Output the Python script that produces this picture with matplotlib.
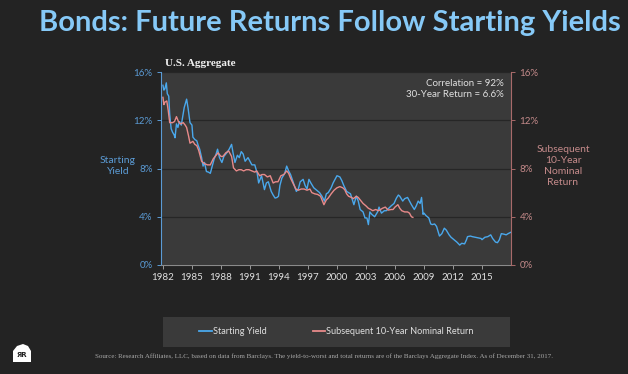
import matplotlib
matplotlib.use("Agg")
import matplotlib.pyplot as plt
from matplotlib.lines import Line2D
from matplotlib.patches import Polygon

# ---- Data ----
yield_years = [1982.0, 1982.1, 1982.2, 1982.35, 1982.45, 1982.6, 1982.7, 1982.85, 1983.0, 1983.15,
               1983.25, 1983.4, 1983.55, 1983.7, 1983.9, 1984.05, 1984.2, 1984.45, 1984.6, 1984.8,
               1985.0, 1985.1, 1985.3, 1985.5, 1985.65, 1985.8, 1986.0, 1986.15, 1986.3, 1986.5,
               1986.7, 1986.9, 1987.1, 1987.3, 1987.5, 1987.65, 1987.85, 1988.1, 1988.3, 1988.6,
               1988.85, 1989.1, 1989.25, 1989.45, 1989.7, 1989.9, 1990.1, 1990.3, 1990.5, 1990.8,
               1991.0, 1991.2, 1991.5, 1991.75, 1991.9, 1992.2, 1992.5, 1992.7, 1992.9, 1993.2,
               1993.4, 1993.6, 1993.8, 1993.95, 1994.1, 1994.3, 1994.6, 1994.8, 1995.0, 1995.2,
               1995.5, 1995.8, 1996.0, 1996.2, 1996.5, 1996.7, 1996.9, 1997.1, 1997.3, 1997.6,
               1997.9, 1998.2, 1998.45, 1998.7, 1998.9, 1999.1, 1999.4, 1999.6, 1999.8, 2000.0,
               2000.3, 2000.5, 2000.7, 2001.0, 2001.2, 2001.4, 2001.6, 2001.75, 2002.0, 2002.2,
               2002.4, 2002.7, 2002.9, 2003.1, 2003.25, 2003.4, 2003.6, 2003.9, 2004.2, 2004.35,
               2004.6, 2004.9, 2005.1, 2005.35, 2005.6, 2005.9, 2006.15, 2006.35, 2006.5, 2006.8,
               2007.0, 2007.3, 2007.5, 2007.7, 2008.0, 2008.2, 2008.4, 2008.6, 2008.75, 2008.9,
               2009.0, 2009.2, 2009.5, 2009.7, 2009.85, 2010.1, 2010.3, 2010.6, 2010.85, 2011.1,
               2011.3, 2011.6, 2011.8, 2012.1, 2012.4, 2012.7, 2012.9, 2013.2, 2013.4, 2013.5,
               2013.8, 2014.0, 2014.3, 2014.6, 2014.9, 2015.0, 2015.3, 2015.6, 2015.9, 2016.1,
               2016.4, 2016.6, 2016.8, 2017.0, 2017.3, 2017.5, 2017.7, 2017.95]
yield_vals = [14.9, 14.5, 14.6, 15.1, 14.2, 14.0, 12.5, 11.3, 11.0, 10.8,
              10.55, 11.7, 11.4, 11.9, 11.6, 12.3, 13.05, 13.75, 13.0, 11.8,
              11.6, 10.6, 10.4, 10.3, 9.9, 9.6, 8.9, 8.2, 8.5, 7.75,
              7.7, 7.6, 8.2, 8.8, 9.2, 9.6, 8.9, 8.5, 9.0, 9.3,
              9.6, 10.0, 9.3, 8.5, 9.1, 8.9, 9.4, 9.2, 8.6, 8.9,
              8.6, 8.3, 8.3, 7.6, 6.8, 7.4, 6.25, 6.8, 6.9, 6.1,
              5.8, 5.55, 5.6, 5.7, 6.6, 7.2, 7.6, 8.2, 7.8, 7.5,
              6.8, 6.1, 6.3, 6.9, 7.1, 6.6, 6.3, 7.1, 6.8, 6.4,
              6.2, 6.0, 5.7, 5.3, 5.9, 6.0, 6.4, 6.8, 7.1, 7.4,
              7.3, 7.0, 6.6, 6.1, 6.0, 5.9, 5.4, 5.0, 5.7, 5.3,
              4.6, 4.4, 3.9, 3.9, 3.35, 4.4, 4.2, 4.0, 4.4, 4.8,
              4.3, 4.5, 4.5, 4.7, 4.9, 5.1, 5.55, 5.8, 5.7, 5.3,
              5.5, 5.6, 5.3, 5.0, 4.6, 4.9, 5.3, 5.1, 5.6, 4.2,
              4.3, 4.1, 3.9, 3.4, 3.35, 3.4, 3.2, 2.4, 2.6, 3.05,
              2.9, 2.5, 2.3, 2.1, 1.9, 1.65, 1.8, 1.75, 2.1, 2.35,
              2.4, 2.35, 2.3, 2.25, 2.2, 2.1, 2.3, 2.35, 2.5, 2.2,
              1.9, 1.85, 2.1, 2.6, 2.55, 2.5, 2.6, 2.7]

return_years = [1982.0, 1982.1, 1982.2, 1982.4, 1982.55, 1982.7, 1983.0, 1983.2, 1983.4, 1983.6,
                1983.8, 1984.1, 1984.3, 1984.45, 1984.65, 1984.8, 1985.1, 1985.3, 1985.5, 1985.7,
                1986.0, 1986.3, 1986.6, 1986.9, 1987.2, 1987.4, 1987.7, 1988.0, 1988.2, 1988.5,
                1988.8, 1989.1, 1989.3, 1989.6, 1989.85, 1990.1, 1990.35, 1990.6, 1990.9, 1991.2,
                1991.5, 1991.7, 1992.0, 1992.25, 1992.5, 1992.8, 1993.1, 1993.4, 1993.65, 1993.9,
                1994.2, 1994.5, 1994.8, 1995.0, 1995.2, 1995.5, 1995.75, 1996.0, 1996.3, 1996.6,
                1996.9, 1997.2, 1997.4, 1997.7, 1998.0, 1998.3, 1998.5, 1998.65, 1998.9, 1999.1,
                1999.4, 1999.7, 2000.0, 2000.3, 2000.6, 2000.8, 2001.0, 2001.2, 2001.5, 2001.7,
                2002.0, 2002.2, 2002.5, 2002.7, 2003.0, 2003.25, 2003.5, 2003.7, 2004.0, 2004.3,
                2004.7, 2005.0, 2005.3, 2005.6, 2005.8, 2006.0, 2006.3, 2006.5, 2006.7, 2007.0,
                2007.3, 2007.5, 2007.7, 2007.85]
return_vals = [13.9, 13.3, 13.5, 13.6, 12.8, 11.8, 11.8, 11.9, 12.3, 11.9,
               11.7, 11.8, 11.6, 11.4, 10.7, 10.1, 10.25, 10.0, 9.9, 9.5,
               8.6, 8.4, 8.3, 8.3, 8.8, 9.0, 9.3, 9.0, 9.0, 9.3,
               9.45, 9.0, 8.05, 7.8, 7.9, 7.9, 7.8, 7.9, 7.9, 7.8,
               7.7, 7.8, 7.4, 7.5, 7.5, 7.3, 7.4, 6.8, 6.9, 6.9,
               7.4, 7.5, 7.8, 7.6, 7.2, 6.7, 6.3, 6.2, 6.3, 6.3,
               6.2, 6.3, 6.0, 5.9, 5.85, 5.7, 5.3, 5.0, 5.4, 5.55,
               5.9, 6.2, 6.4, 6.5, 6.4, 6.25, 5.9, 5.7, 5.6, 5.5,
               5.7, 5.6, 5.3, 5.1, 4.9, 4.7, 4.6, 4.5, 4.6, 4.5,
               4.7, 4.8, 4.55, 4.6, 4.6, 4.8, 5.0, 4.7, 4.5, 4.4,
               4.4, 4.3, 4.0, 3.95]

year_ticks = [1982, 1985, 1988, 1991, 1994, 1997, 2000, 2003, 2006, 2009, 2012, 2015]
pct_ticks = [0, 4, 8, 12, 16]

# ---- Style ----
BG = "#232323"
PANEL = "#3a3a3a"
BLUE = "#4aa8ec"
PINK = "#e88a8a"
BLUE_TXT = "#5b9bd5"
PINK_TXT = "#c48a8a"
FONT = "Lato"

fig = plt.figure(figsize=(6.28, 3.74), dpi=100, facecolor=BG)

ax = fig.add_axes([161 / 628, 1 - 265 / 374, 350 / 628, 193 / 374])
ax.set_facecolor(PANEL)
ax.plot(yield_years, yield_vals, color=BLUE, lw=1.0)
ax.plot(return_years, return_vals, color=PINK, lw=1.0)

ax.set_xlim(1981.8, 2018.0)
ax.set_ylim(0, 16)
ax.set_xticks(year_ticks)
ax.set_xticklabels([str(y) for y in year_ticks], fontfamily=FONT, fontsize=7, color="#e0e0e0")
ax.set_yticks(pct_ticks)
ax.set_yticklabels([f"{p}%" for p in pct_ticks], fontfamily=FONT, fontsize=7, color=BLUE_TXT)
ax.grid(axis="y", color="#262626", lw=0.9)
ax.set_axisbelow(True)
ax.tick_params(axis="x", colors="#9a9a9a", labelcolor="#e0e0e0", length=3, width=0.7, pad=3)
ax.tick_params(axis="y", colors=BLUE_TXT, length=3, width=0.7, pad=3)
ax.spines["top"].set_visible(False)
ax.spines["right"].set_visible(False)
ax.spines["left"].set_color(BLUE_TXT)
ax.spines["bottom"].set_color("#8a8a8a")

ax2 = ax.twinx()
ax2.set_ylim(0, 16)
ax2.set_yticks(pct_ticks)
ax2.set_yticklabels([f"{p}%" for p in pct_ticks], fontfamily=FONT, fontsize=7, color=PINK_TXT)
ax2.tick_params(axis="y", colors="#a86a6a", labelcolor=PINK_TXT, length=3, width=0.7, pad=3)
for s in ["top", "left", "bottom"]:
    ax2.spines[s].set_visible(False)
ax2.spines["right"].set_color("#a86a6a")

ax.text(0.98, 0.965, "Correlation = 92%\n30-Year Return = 6.6%", transform=ax.transAxes,
        ha="right", va="top", fontfamily=FONT, fontsize=7, color="#e0e0e0", linespacing=1.35)

# ---- Titles and axis labels ----
fig.text(330 / 628, 1 - 23 / 374, "Bonds: Future Returns Follow Starting Yields",
         ha="center", va="center", fontfamily=FONT, fontweight="bold", fontsize=21, color="#86c9f7")
fig.text(200 / 628, 1 - 63 / 374, "U.S. Aggregate", ha="center", va="center",
         fontfamily="Liberation Serif", fontweight="bold", fontsize=8, color="#f0f0f0")
fig.text(118 / 628, 1 - 166 / 374, "Starting\nYield", ha="center", va="center",
         fontfamily=FONT, fontsize=7.5, color=BLUE_TXT, linespacing=1.3)
fig.text(563 / 628, 1 - 166 / 374, "Subsequent\n10-Year\nNominal\nReturn", ha="center", va="center",
         fontfamily=FONT, fontsize=7.5, color=PINK_TXT, linespacing=1.3)

# ---- Legend panel ----
lax = fig.add_axes([163 / 628, 1 - 347 / 374, 347 / 628, 30 / 374])
lax.set_facecolor(PANEL)
lax.set_xticks([])
lax.set_yticks([])
for s in lax.spines.values():
    s.set_visible(False)
handles = [Line2D([], [], color=BLUE, lw=1.3), Line2D([], [], color=PINK, lw=1.3)]
lax.legend(handles, ["Starting Yield", "Subsequent 10-Year Nominal Return"], loc="center",
           ncol=2, frameon=False, handlelength=1.4, handletextpad=0.1, columnspacing=5,
           prop={"family": FONT, "size": 6.6}, labelcolor="#e0e0e0")

# ---- Footer ----
fig.text(95 / 628, 1 - 356 / 374,
         "Source: Research Affiliates, LLC, based on data from Barclays. The yield-to-worst and total "
         "returns are of the Barclays Aggregate Index. As of December 31, 2017.",
         ha="left", va="center", fontfamily="Liberation Serif", fontsize=5.0, color="#a8a8a8")
fig.patches.append(Polygon([(13 / 628, 1 - 362 / 374), (13 / 628, 1 - 351 / 374),
                            (17 / 628, 1 - 346 / 374), (23 / 628, 1 - 344 / 374),
                            (28 / 628, 1 - 346 / 374), (31 / 628, 1 - 351 / 374),
                            (31 / 628, 1 - 362 / 374)],
                           closed=True, facecolor="white", edgecolor="none",
                           transform=fig.transFigure, figure=fig))
fig.text(22 / 628, 1 - 355 / 374, "ЯR", ha="center", va="center", fontfamily="DejaVu Sans",
         fontweight="bold", fontsize=5, color=BG)

fig.savefig("out.png", dpi=100, facecolor=BG)
